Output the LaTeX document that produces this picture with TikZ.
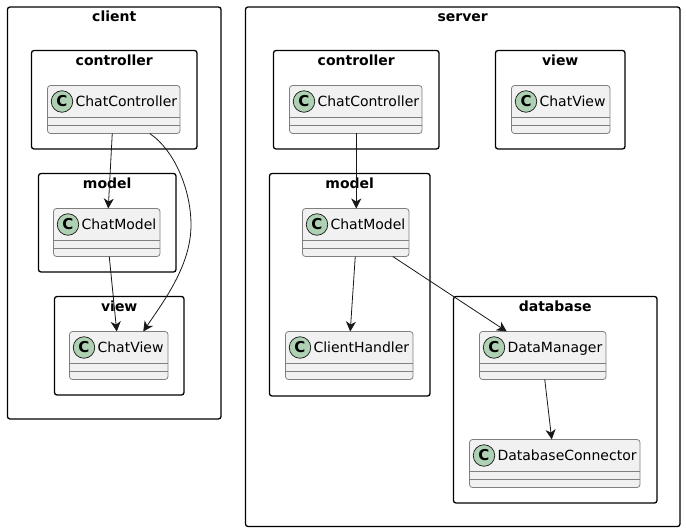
\documentclass[tikz,border=0pt]{standalone}
\usepackage{fontspec}
\setmainfont{DejaVu Sans}
\usetikzlibrary{arrows.meta, positioning}

\definecolor{classfill}{HTML}{F1F1F1}
\definecolor{classline}{HTML}{7F7F7F}
\definecolor{classmark}{HTML}{ADD1B2}
\definecolor{edgeline}{HTML}{181818}

% x, y of top left corner, then width, height, title
\newcommand{\packagebox}[6]{
	\node (#1) [packageframe, minimum width=#4, minimum height=#5] at (#2,#3) {};
	\node (#1title) [packagetitle, below=4pt of #1.north] {#6};
}
% x, y of top left corner, then width, name
\newcommand{\classbox}[5]{
	\node (#1) [classframe, minimum width=#4] at (#2,#3) {};
	\draw [classrule] ([yshift=-32]#1.north west) -- ([yshift=-32]#1.north east);
	\draw [classrule] ([yshift=-40]#1.north west) -- ([yshift=-40]#1.north east);
	\node (#1mark) [classcircle] at ([xshift=14.5, yshift=-16]#1.north west) {C};
	\node (#1name) [classname, right=2.8pt of #1mark] {#5};
}

\begin{document}
\begin{tikzpicture} [
						x=1pt, y=-1pt,
						packageframe/.style={draw=black, line width=1.3pt, rounded corners=2.5pt, anchor=north west, inner sep=0pt, outer sep=0pt},
						packagetitle/.style={font=\fontsize{14}{16}\selectfont\bfseries, inner sep=0pt, outer sep=0pt, text height=11pt, text depth=4pt},
						classframe/.style={draw=classline, line width=0.8pt, fill=classfill, rounded corners=3pt, anchor=north west, minimum height=48, inner sep=0pt, outer sep=0pt},
						classrule/.style={draw=classline, line width=0.8pt},
						classcircle/.style={circle, draw=edgeline, line width=0.7pt, fill=classmark, minimum size=21.5, inner sep=0pt, outer sep=0pt, font=\fontsize{15}{16}\selectfont\bfseries},
						classname/.style={font=\fontsize{14}{16}\selectfont, text=black, inner sep=0pt, outer sep=0pt, text height=11pt, text depth=1pt},
						uses/.style={draw=edgeline, line width=0.8pt, -{Stealth[inset=3pt, length=10pt, width=10pt]}}
					]

\useasboundingbox (0,0) rectangle (686,532);

\packagebox{client}{7.5}{7}{213.5}{412}{client}
\packagebox{clientcontroller}{31.5}{50.5}{165.5}{98.5}{controller}
\packagebox{clientmodel}{38.5}{173.5}{137.5}{98.5}{model}
\packagebox{clientview}{54.5}{296.5}{129.5}{98.5}{view}
\packagebox{server}{245.5}{7}{434.5}{519.5}{server}
\packagebox{servercontroller}{273.5}{50.5}{165.5}{98.5}{controller}
\packagebox{serverview}{495.5}{50.5}{129.5}{98.5}{view}
\packagebox{servermodel}{269.5}{173.5}{160.5}{222.5}{model}
\packagebox{database}{453.5}{296.5}{203.5}{206.5}{database}

\classbox{cchatcontroller}{47.5}{85.5}{132.5}{ChatController}
\classbox{cchatmodel}{53.5}{208.5}{106.5}{ChatModel}
\classbox{cchatview}{69.5}{331.5}{98.5}{ChatView}
\classbox{schatcontroller}{289.5}{85.5}{132.5}{ChatController}
\classbox{schatview}{511.5}{85.5}{98.5}{ChatView}
\classbox{schatmodel}{302.5}{208.5}{106.5}{ChatModel}
\classbox{clienthandler}{285.5}{331.5}{127.5}{ClientHandler}
\classbox{datamanager}{479.5}{331.5}{126.5}{DataManager}
\classbox{dbconnector}{469.5}{439.5}{170.5}{DatabaseConnector}

\coordinate (clientbend) at (191,225);

\draw [uses] ([xshift=-1.5]cchatcontroller.south) -- ([xshift=1.5]cchatmodel.north);
\draw [uses] ([xshift=2.5]cchatmodel.south) -- ([xshift=-2]cchatview.north);
\draw [uses] ([xshift=36]cchatcontroller.south) .. controls +(25,17) and +(0,-35) .. (clientbend) .. controls +(0,40) and +(21,-31) .. ([xshift=24.5]cchatview.north);
\draw [uses] ([xshift=0.5]schatcontroller.south) -- ([xshift=0.5]schatmodel.north);
\draw [uses] ([xshift=-0.5]schatmodel.south) -- ([xshift=1]clienthandler.north);
\draw [uses] ([xshift=37]schatmodel.south) -- ([xshift=-36]datamanager.north);
\draw [uses] ([xshift=2]datamanager.south) -- ([xshift=-3]dbconnector.north);
\end{tikzpicture}
\end{document}
